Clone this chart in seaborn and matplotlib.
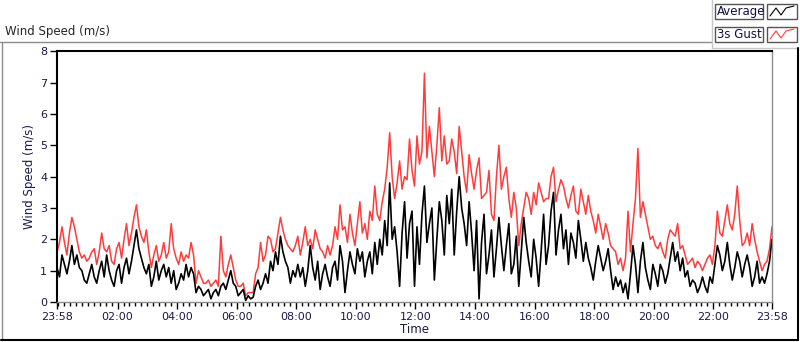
import matplotlib
matplotlib.use("Agg")
import matplotlib.pyplot as plt
from matplotlib.lines import Line2D
from matplotlib.patches import Rectangle
import seaborn as sns
import pandas as pd
import numpy as np

# minutes since 23:58, one reading every 5 minutes (one row per hour)
minutes = list(range(0, 1441, 5))

avg = [1.1, 0.8, 1.5, 1.2, 0.9, 1.3, 1.8, 1.2, 1.5, 1.1, 1.0, 0.7,
       0.6, 0.9, 1.2, 0.8, 0.6, 1.0, 1.3, 0.8, 1.5, 1.0, 0.7, 0.5,
       1.0, 1.2, 0.6, 1.1, 1.4, 0.9, 1.3, 1.8, 2.3, 1.7, 1.4, 1.1,
       0.9, 1.2, 0.5, 0.8, 1.3, 0.7, 1.0, 1.2, 0.8, 1.1, 0.6, 1.0,
       0.4, 0.6, 0.9, 0.7, 1.2, 0.8, 1.1, 0.9, 0.3, 0.5, 0.4, 0.2,
       0.3, 0.4, 0.1, 0.3, 0.4, 0.2, 0.5, 0.6, 0.4, 0.7, 1.0, 0.6,
       0.5, 0.2, 0.3, 0.4, 0.05, 0.2, 0.1, 0.15, 0.5, 0.7, 0.4, 0.6,
       0.9, 0.6, 1.3, 1.0, 1.6, 1.2, 2.1, 1.6, 1.3, 1.1, 0.6, 1.0,
       0.8, 1.2, 0.8, 1.1, 0.5, 1.0, 1.8, 1.1, 0.7, 1.3, 0.4, 0.9,
       1.2, 0.8, 0.5, 1.1, 1.3, 0.7, 1.8, 1.3, 0.3, 1.0, 1.6, 1.2,
       0.9, 1.7, 1.3, 1.6, 0.8, 1.3, 1.6, 0.9, 1.9, 1.2, 2.0, 1.5,
       2.6, 1.8, 3.8, 2.0, 2.4, 1.6, 0.5, 2.2, 3.2, 1.4, 2.5, 2.9,
       0.5, 2.4, 1.2, 2.8, 3.7, 1.9, 2.5, 3.0, 0.7, 2.0, 3.2, 2.6,
       1.5, 3.4, 2.5, 3.6, 1.5, 2.9, 4.0, 3.0, 2.5, 1.8, 3.2, 2.2,
       1.0, 2.6, 0.1, 1.9, 2.8, 0.9, 1.5, 2.3, 0.8, 1.7, 2.7, 1.8,
       1.0, 1.8, 2.5, 0.9, 1.2, 2.1, 0.5, 1.6, 2.7, 1.9, 1.3, 0.8,
       2.0, 1.4, 0.5, 1.6, 2.8, 1.2, 1.8, 2.9, 3.5, 1.5, 2.3, 2.8,
       1.7, 2.3, 1.2, 2.2, 1.9, 1.4, 2.6, 2.0, 1.3, 1.9, 1.4, 1.1,
       0.7, 1.3, 1.8, 1.4, 1.0, 1.3, 1.7, 1.0, 0.4, 0.8, 0.5, 0.7,
       0.3, 0.6, 0.1, 0.9, 1.8, 1.2, 0.3, 1.3, 1.9, 1.1, 0.7, 0.4,
       1.2, 0.9, 0.5, 1.2, 1.0, 0.6, 0.9, 1.4, 1.9, 1.3, 1.6, 1.0,
       1.4, 0.8, 1.0, 0.5, 0.7, 0.6, 0.3, 0.5, 0.8, 0.5, 0.3, 0.8,
       0.6, 1.2, 1.8, 1.5, 1.0, 1.3, 1.9, 1.2, 0.7, 1.1, 1.6, 1.3,
       0.8, 1.2, 1.5, 1.1, 0.5, 0.8, 1.3, 0.6, 0.8, 0.6, 0.9, 1.3,
       2.0]

gust = [1.6, 1.9, 2.4, 1.9, 1.5, 2.2, 2.7, 2.4, 2.0, 1.6, 1.4, 1.5,
        1.3, 1.4, 1.6, 1.7, 1.2, 1.6, 2.2, 1.7, 1.6, 1.8, 1.3, 1.2,
        1.7, 1.9, 1.4, 2.0, 2.5, 1.8, 2.2, 2.7, 3.1, 2.4, 2.1, 1.9,
        2.3, 1.6, 1.1, 1.5, 1.8, 1.3, 1.5, 1.9, 1.4, 1.6, 2.5, 1.7,
        1.4, 1.2, 1.6, 1.3, 1.5, 1.4, 1.9, 1.5, 0.6, 1.0, 0.8, 0.6,
        0.6, 0.7, 0.5, 0.6, 0.7, 0.5, 2.1, 1.0, 0.8, 1.2, 1.5, 1.1,
        0.7, 0.5, 0.5, 0.6, 0.2, 0.3, 0.3, 0.3, 0.9, 1.1, 1.9, 1.3,
        1.5, 2.1, 2.0, 1.6, 1.7, 2.2, 2.7, 2.3, 2.0, 1.8, 1.7, 1.6,
        1.8, 2.1, 1.5, 1.9, 2.4, 1.8, 2.0, 1.7, 2.3, 2.0, 1.7, 1.6,
        1.4, 1.8, 1.5, 1.8, 2.4, 2.0, 3.1, 2.3, 2.4, 1.9, 2.8, 2.2,
        1.8, 2.5, 3.2, 2.2, 2.5, 2.0, 2.9, 2.6, 3.7, 2.8, 2.6, 3.2,
        3.6, 4.3, 5.4, 4.0, 3.3, 3.8, 4.5, 3.6, 4.0, 3.9, 5.2, 4.2,
        3.7, 5.3, 4.4, 4.8, 7.3, 4.6, 5.6, 4.8, 4.0, 5.0, 6.2, 4.5,
        5.3, 4.4, 4.5, 5.2, 4.8, 4.1, 5.6, 4.8, 4.0, 3.5, 4.7, 4.1,
        3.6, 4.2, 4.6, 3.3, 3.4, 3.5, 4.2, 2.8, 2.6, 4.0, 5.0, 3.6,
        4.0, 4.3, 3.3, 2.7, 3.5, 3.0, 1.8, 2.5, 3.0, 3.5, 3.3, 2.8,
        3.5, 3.1, 3.8, 3.5, 3.2, 3.3, 3.3, 4.0, 4.3, 3.2, 3.6, 3.9,
        3.7, 3.3, 3.0, 3.4, 3.7, 2.9, 2.8, 3.6, 3.2, 2.8, 3.4, 2.9,
        2.6, 2.2, 2.8, 2.4, 2.0, 2.5, 2.2, 1.8, 1.7, 1.6, 1.2, 1.4,
        1.0, 1.4, 2.9, 1.6, 2.5, 3.3, 4.9, 2.7, 3.2, 2.8, 2.4, 2.0,
        2.1, 1.8, 1.7, 1.9, 1.6, 1.4, 2.0, 2.3, 2.2, 2.1, 2.5, 1.7,
        1.8, 1.5, 1.2, 1.3, 1.4, 1.1, 1.3, 1.2, 1.0, 1.2, 1.4, 1.5,
        1.2, 1.8, 2.9, 2.2, 2.1, 2.6, 3.1, 2.5, 2.3, 2.8, 3.7, 2.6,
        1.8, 1.9, 2.2, 1.8, 2.5, 2.0, 1.6, 1.3, 1.0, 1.2, 1.3, 1.7,
        2.4]

tick_pos = [0, 122, 242, 362, 482, 602, 722, 842, 962, 1082, 1202, 1322, 1440]
tick_labels = ["23:58", "02:00", "04:00", "06:00", "08:00", "10:00", "12:00",
               "14:00", "16:00", "18:00", "20:00", "22:00", "23:58"]

df = pd.DataFrame({"Time": minutes, "Average": avg, "3s Gust": gust})

sns.set_style("white")
plt.rcParams['font.family'] = ['DejaVu Sans']
navy = '#1a1a48'

fig = plt.figure(figsize=(8, 3.42), dpi=100)
ax = fig.add_axes([57 / 800, 1 - 302 / 342, (772 - 57) / 800, (302 - 51.3) / 342])

sns.lineplot(data=df, x="Time", y="3s Gust", color='#ff3c3c', lw=1.1, ax=ax)
sns.lineplot(data=df, x="Time", y="Average", color='black', lw=1.2, ax=ax)

ax.set_xlim(0, 1440)
ax.set_ylim(0, 8)
ax.set_yticks(range(0, 9))
ax.set_xticks(tick_pos)
ax.set_xticklabels(tick_labels)
ax.set_xticks(np.arange(2, 1440, 12), minor=True)
ax.tick_params(axis='both', which='major', labelsize=8, labelcolor=navy,
               direction='out', length=5, width=1, color='black', bottom=True, left=True, pad=2)
ax.tick_params(axis='x', which='minor', direction='out', length=3, width=1,
               color='black', bottom=True)
ax.set_xlabel("Time", fontsize=8.5, color=navy, labelpad=1)
ax.set_ylabel("Wind Speed (m/s)", fontsize=8.5, color=navy, labelpad=3)

for side in ['left', 'top']:
    ax.spines[side].set_color('black')
    ax.spines[side].set_linewidth(1.5)
for side in ['right', 'bottom']:
    ax.spines[side].set_color('#8c8c8c')
    ax.spines[side].set_linewidth(1)

# outer panel frame
def fline(x0, y0, x1, y1, c, lw=1):
    fig.add_artist(Line2D([x0 / 800, x1 / 800], [1 - y0 / 342, 1 - y1 / 342],
                          transform=fig.transFigure, color=c, lw=lw))

fline(0, 42, 712, 42, '#8c8c8c')
fline(712, 0, 712, 48, '#c8c8c8')
fline(712, 48, 797, 48, '#c8c8c8')
fline(1.5, 42, 1.5, 340, '#8c8c8c')
fline(1, 340, 798, 340, 'black', 1.5)
fline(797.5, 48, 797.5, 340, 'black', 1.5)

fig.text(5 / 800, 1 - 31 / 342, "Wind Speed (m/s)", fontsize=8.5, va='center', ha='left')

# legend
for i, (name, col) in enumerate([("Average", 'black'), ("3s Gust", '#ff3c3c')]):
    y0 = 4 + i * 23
    fig.add_artist(Rectangle((715 / 800, 1 - (y0 + 15) / 342), 48 / 800, 15 / 342,
                             transform=fig.transFigure, fill=False, ec='#555555', lw=1))
    fig.add_artist(Rectangle((767 / 800, 1 - (y0 + 15) / 342), 30 / 800, 15 / 342,
                             transform=fig.transFigure, fill=False, ec='#555555', lw=1))
    fig.text(717 / 800, 1 - (y0 + 7.5) / 342, name, fontsize=8.5, color='#101040',
             va='center', ha='left')
    zx = [770, 776, 781, 786, 794]
    zy = [y0 + 12, y0 + 4, y0 + 11, y0 + 4, y0 + 2]
    fig.add_artist(Line2D([v / 800 for v in zx], [1 - v / 342 for v in zy],
                          transform=fig.transFigure, color=col, lw=0.8))

fig.savefig("out.png", dpi=100)
